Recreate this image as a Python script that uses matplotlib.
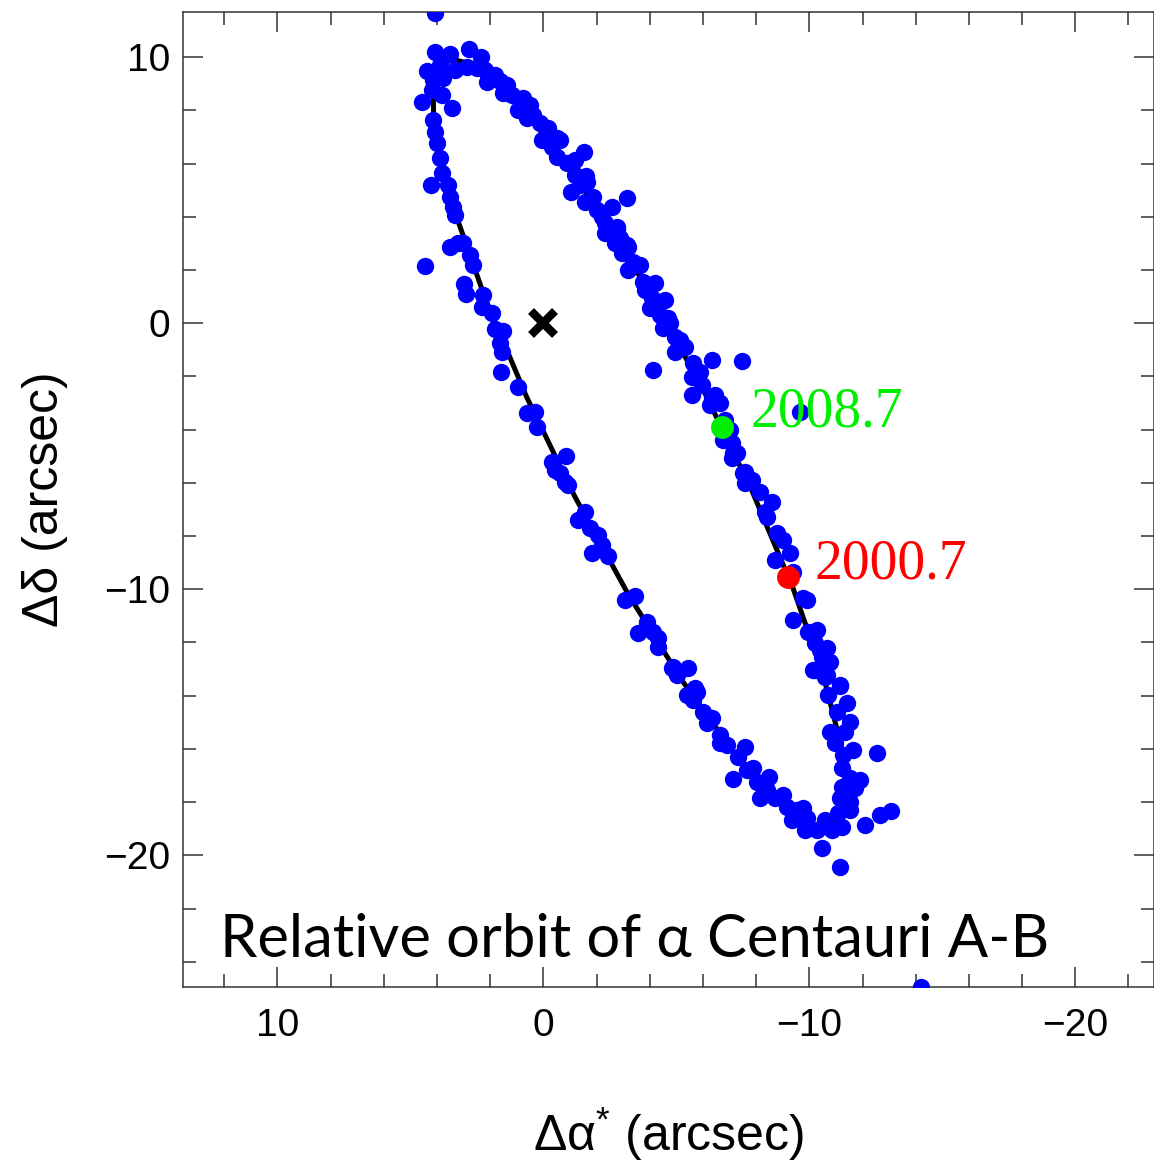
import matplotlib
matplotlib.use("Agg")
import matplotlib.pyplot as plt
from matplotlib.ticker import MultipleLocator

plt.rcParams['font.family'] = ['Liberation Sans', 'DejaVu Sans']
plt.rcParams['mathtext.fontset'] = 'custom'
plt.rcParams['mathtext.rm'] = 'Liberation Sans'
plt.rcParams['mathtext.it'] = 'Liberation Sans:italic'

obs_x = [4.07, 4.07, 3.53, 2.79, 2.34, 4.38, 3.88, 3.32, 2.88, 2.50, 2.19, 4.14, 3.76, 4.20,
         3.82, 4.57, 3.42, 2.11, 1.65, 1.50, 1.19, 0.75, 0.94, 0.38, 0.12, 0.62, 0.06, -0.50,
         -0.32, -1.53, -0.50, -0.88, -1.19, -1.61, -1.03, -1.63, -1.88, -1.57, -2.57, -3.14,
         -2.20, -2.76, -2.32, -3.14, 4.14, 4.07, 4.01, 3.88, 3.82, 4.22, 3.57, 3.51, 3.38, 3.32,
         3.20, 3.51, 3.01, 2.76, 4.45, 2.63, 2.97, 2.92, 2.26, 2.32, 1.94, 1.82, 1.53, 1.63,
         1.56, 1.59, 0.94, 0.62, 0.31, 0.25, -0.32, -0.84, -0.63, -4.12, -2.32, -2.76, -2.38,
         -2.70, -3.20, -2.95, -3.38, -3.20, -3.76, -4.20, -4.08, -4.58, -4.01, -4.39, -4.76,
         -4.51, -4.95, -5.33, -4.95, -5.64, -6.33, -7.46, -5.58, -5.95, -5.58, -6.45, -6.27,
         -6.64, -7.02, -7.08, -9.65, -0.44, -0.82, -0.94, -1.57, -1.32, -1.76, -2.07, -2.20,
         -1.82, -2.44, -3.07, -3.45, -3.89, -3.57, -4.14, -4.32, -4.32, -4.89, -5.45, -5.02,
         -5.70, -7.14, -7.52, -6.77, -7.27, -7.08, -7.58, -7.83, -7.58, -8.15, -8.59, -8.33,
         -8.40, -8.77, -9.02, -9.27, -8.71, -9.40, -9.77, -9.90, -9.40, -9.96, -10.28, -10.21,
         -10.65, -10.47, -10.78, -10.21, -10.59, -11.15, -4.83, -5.39, -5.77, -5.64, -6.02,
         -6.33, -6.14, -6.64, -6.64, -6.89, -7.58, -7.33, -7.14, -7.65, -7.89, -8.02, -8.50,
         -8.15, -8.40, -8.71, -9.02, -9.15, -9.53, -9.77, -9.34, -9.90, -9.84, -10.28, -10.47,
         -10.59, -10.84, -11.15, -11.22, -12.09, -12.66, -13.06, -10.40, -10.65, -10.15, -10.65,
         -11.15, -10.71, -11.41, -11.03, -11.53, -10.78, -11.34, -10.97, -11.65, -11.28, -12.56,
         -11.22, -11.53, -11.91, -11.22, -11.72, -11.15, -11.53, -11.53, -11.09, -14.19,
         1.81, 1.36, 0.50, -0.18, -0.63, -1.19, -1.38, -2.01, -2.88, -3.64, -3.82, -4.68,
         -5.13, -5.89, -6.33, -6.83]
obs_y = [11.65, 10.21, 10.12, 10.30, 10.00, 9.48, 9.71, 9.52, 9.65, 9.59, 9.52, 9.15, 9.21, 8.77,
         8.58, 8.33, 8.11, 9.08, 9.11, 8.65, 8.58, 8.48, 8.02, 7.83, 7.52, 7.71, 6.89, 6.95,
         6.64, 6.43, 6.26, 6.02, 5.58, 5.54, 4.92, 5.32, 4.76, 4.57, 4.38, 4.70,
         4.01, 3.63, 3.38, 2.94, 7.64, 7.20, 6.77, 6.20, 5.64, 5.20, 5.20, 4.76, 4.38, 4.07,
         3.01, 2.88, 3.01, 2.57, 2.15, 2.19, 1.47, 1.09, 1.06, 0.62, 0.38, -0.23, -0.29, -0.75,
         -1.07, -1.82, -2.38, -3.38, -3.32, -3.89, -5.20, -4.99, -5.64, -1.76, 3.76, 3.51, 3.38,
         3.01, 2.88, 2.63, 2.32, 2.00, 1.56, 1.50, 0.94, 0.88, 0.56, 0.31, 0.00,
         -0.19, -0.50, -0.88, -1.07, -1.50, -1.38, -1.42, -2.01, -2.32, -2.70, -2.70, -3.07,
         -3.01, -4.01, -4.51, -3.33, -5.52, -5.95, -6.08, -7.08, -7.39, -7.71, -7.96, -8.33,
         -8.65, -8.75, -10.40, -10.25, -11.22, -11.63, -11.59, -11.84, -12.16, -12.91, -12.97, -13.22,
         -13.72, -4.89, -5.64, -4.39, -4.89, -5.08, -5.58, -5.89, -6.02, -6.33, -6.71, -7.08,
         -7.27, -7.89, -8.15, -8.65, -8.90, -9.34, -10.34, -10.40, -11.15, -11.59, -11.53, -12.03,
         -12.22, -12.53, -12.72, -13.03, -13.29, -13.60, -12.97, -13.97, -13.85, -14.16, -14.60,
         -14.85, -15.04, -15.48, -15.79, -15.85, -15.92, -16.29, -17.14, -16.79, -16.73, -17.23, -17.05,
         -17.86, -17.55, -17.86, -17.73, -18.17, -18.30, -18.23, -18.67, -18.61, -19.05, -19.05, -19.74,
         -18.67, -19.05, -20.43, -18.92, -18.86, -18.48, -18.32, -12.28, -12.72, -13.03, -13.22,
         -13.64, -13.97, -14.29, -14.60, -14.98, -15.35, -15.35, -15.79, -16.04, -16.23, -16.14,
         -16.73, -17.11, -17.17, -17.42, -17.48, -17.86, -17.98, -18.30, -18.42, -24.95,
         9.33, 8.96, 8.21, 7.34, 6.89, 6.14, 5.20, 4.26, 3.21, 2.19, 1.25, 0.20,
         -0.63, -1.83, -2.81, -3.64]

# fitted orbit (black curve), vertices
orbit_x = [3.32, 2.17, 0.63, -1.19, -3.18, -5.20, -7.11, -8.78, -9.49, -10.10, -10.60, -10.98,
           -11.23, -11.35, -11.34, -11.20, -10.52, -9.38, -7.84, -6.02, -4.03, -2.01, -0.10,
           1.58, 2.29, 2.90, 3.39, 3.77, 4.02, 4.14, 4.13, 3.99, 3.32]
orbit_y = [4.16, 0.88, -2.77, -6.53, -10.17, -13.41, -16.06, -17.91, -18.51, -18.86, -18.96, -18.82,
           -18.44, -17.82, -16.97, -15.90, -13.22, -9.94, -6.29, -2.52, 1.11, 4.36, 7.00,
           8.86, 9.45, 9.80, 9.91, 9.77, 9.39, 8.77, 7.92, 6.85, 4.16]

epochs = ['2008.7', '2000.7']
epoch_x = [-6.71, -9.19]
epoch_y = [-3.89, -9.53]
epoch_colors = ['#00ee00', '#ff0000']
label_x = [-7.77, -10.21]
label_y = [-3.89, -9.59]

fig = plt.figure(figsize=(11.54, 11.62), dpi=100)
ax = fig.add_axes([0.1586, 0.1506, 0.8414, 0.8393])

ax.plot(orbit_x, orbit_y, color='black', lw=3.6, zorder=2)
ax.plot(obs_x, obs_y, 'o', color='#0000ff', ms=12.5, mec='none', zorder=3)
for ex, ey, c in zip(epoch_x, epoch_y, epoch_colors):
    ax.plot(ex, ey, 'o', color=c, ms=16.5, mec='none', zorder=4)
for t, lx, ly, c in zip(epochs, label_x, label_y, epoch_colors):
    ax.text(lx, ly, t, color=c, fontsize=40, family=['Liberation Serif'],
            ha='left', va='baseline', zorder=5)
ax.plot(0, 0, 'x', color='black', ms=17, mew=6, zorder=5)

ax.text(12.15, -23.82, 'Relative orbit of α Centauri A-B', fontsize=43,
        family=['Lato', 'Open Sans', 'DejaVu Sans'], ha='left', va='baseline')

ax.set_xlim(13.55, -22.96)
ax.set_ylim(-24.95, 11.71)
ax.xaxis.set_major_locator(MultipleLocator(10))
ax.xaxis.set_minor_locator(MultipleLocator(2))
ax.yaxis.set_major_locator(MultipleLocator(10))
ax.yaxis.set_minor_locator(MultipleLocator(2))
ax.tick_params(which='both', direction='in', top=True, right=True, width=1.1, color='#333333')
ax.tick_params(which='major', length=14.5, labelsize=28)
ax.tick_params(which='minor', length=9.5)
ax.tick_params(axis='x', which='major', pad=15)
ax.tick_params(axis='y', which='major', pad=9)
for s in ax.spines.values():
    s.set_linewidth(1.1)
    s.set_color('#333333')

ax.set_xlabel('Δα$^{*}$ (arcsec)', fontsize=36)
ax.set_ylabel('Δδ (arcsec)', fontsize=36)
ax.xaxis.set_label_coords(0.5, -0.122)
ax.yaxis.set_label_coords(-0.118, 0.5)

fig.savefig('out.png', dpi=100)
